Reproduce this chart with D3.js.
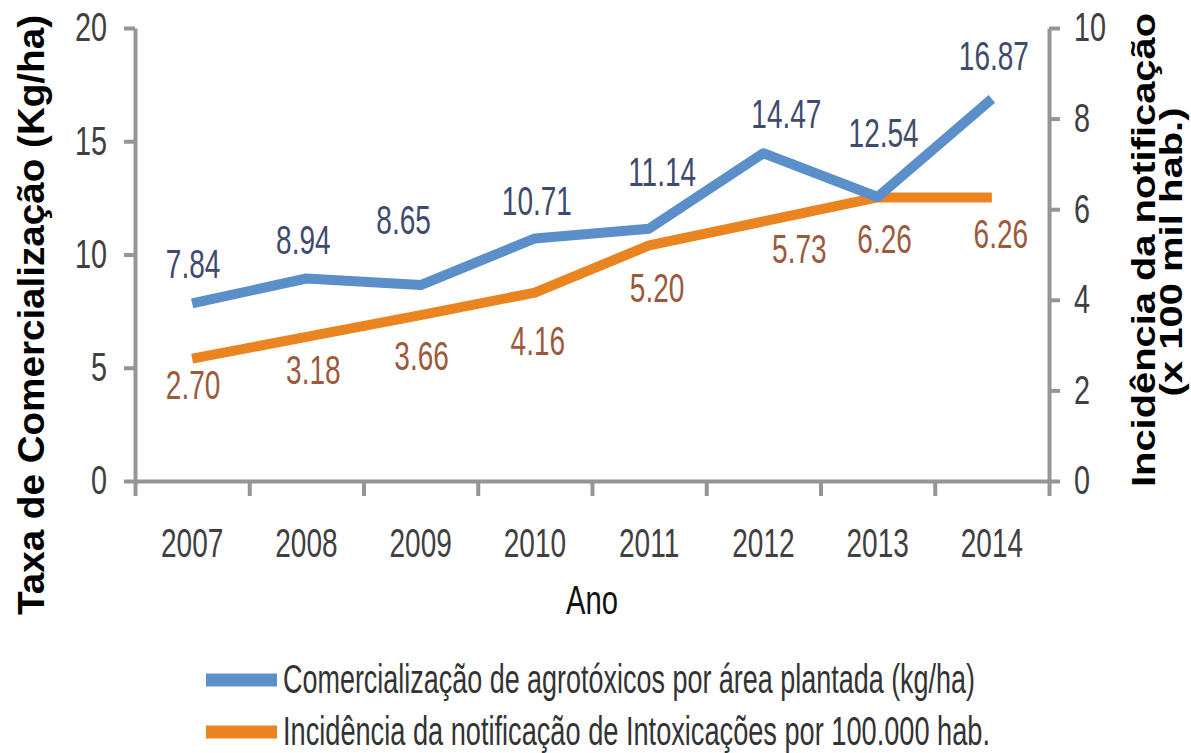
<!DOCTYPE html>
<html>
<head>
<meta charset="utf-8">
<script src="https://cdn.jsdelivr.net/npm/d3@7"></script>
<style>
  body { margin: 0; background: #fff; }
  text { font-family: "Liberation Sans", Arial, sans-serif; }
  .axis path, .axis line { stroke: #959595; stroke-width: 4; }
  .axis text { fill: #404040; font-size: 40px; }
</style>
</head>
<body>
<svg id="chart" width="1191" height="753"></svg>
<script>
// Chart data
var years = ["2007", "2008", "2009", "2010", "2011", "2012", "2013", "2014"];
var comercializacao = [7.84, 8.94, 8.65, 10.71, 11.14, 14.47, 12.54, 16.87];
var incidencia = [2.70, 3.18, 3.66, 4.16, 5.20, 5.73, 6.26, 6.26];
var leftTicks = [0, 5, 10, 15, 20];
var rightTicks = [0, 2, 4, 6, 8, 10];

// Label nudges (px), as placed in the original
var blueDx = [1, -3, -17, 2, 13, 23, 6, 2];
var blueDy = [-25, -25, -51, -23, -43, -25, -50, -29];
var orangeDx = [1, 7, 1, 3, 8, 36, 7, 9];
var orangeDy = [40, 47, 55, 62, 57, 42, 56, 51];

// Plot area
var plotLeft = 135, plotRight = 1049, plotTop = 28, plotBottom = 481;
var blue = "#5b8fc9", orange = "#ea8420";

var svg = d3.select("#chart");

// squeeze text horizontally, like the condensed font of the original
function squeeze(sel, k) {
  sel.each(function() {
    var w = this.getComputedTextLength();
    d3.select(this).attr("textLength", w * k).attr("lengthAdjust", "spacingAndGlyphs");
  });
}
function fitWidth(sel, w) {
  sel.attr("textLength", w).attr("lengthAdjust", "spacingAndGlyphs");
}

// Scales
var x = d3.scaleBand().domain(years).range([plotLeft, plotRight]);
var xEdge = d3.scaleLinear().domain([0, years.length]).range([plotLeft, plotRight]);
var yL = d3.scaleLinear().domain([0, 20]).range([plotBottom, plotTop]);
var yR = d3.scaleLinear().domain([0, 10]).range([plotBottom, plotTop]);

// X axis: boundary ticks
svg.append("g")
    .attr("class", "axis")
    .attr("transform", "translate(0," + plotBottom + ")")
    .call(d3.axisBottom(xEdge).tickValues(d3.range(years.length + 1)).tickFormat("").tickSize(15).tickSizeOuter(0));

// X axis labels
var xLab = svg.append("g")
    .attr("class", "axis")
    .attr("transform", "translate(0," + plotBottom + ")")
    .call(d3.axisBottom(x).tickSize(0).tickPadding(48));
xLab.select(".domain").remove();
xLab.selectAll("text").call(squeeze, 0.7);

// Left axis
var axL = svg.append("g")
    .attr("class", "axis")
    .attr("transform", "translate(" + plotLeft + ",0)")
    .call(d3.axisLeft(yL).tickValues(leftTicks).tickSize(11).tickSizeOuter(0).tickPadding(17));
axL.selectAll("text").call(squeeze, 0.72);

// Right axis
var axR = svg.append("g")
    .attr("class", "axis")
    .attr("transform", "translate(" + plotRight + ",0)")
    .call(d3.axisRight(yR).tickValues(rightTicks).tickSize(11).tickSizeOuter(0).tickPadding(14));
axR.selectAll("text").call(squeeze, 0.72);

// Lines
var cx = function(d, i) { return x(years[i]) + x.bandwidth() / 2; };
var lineL = d3.line().x(cx).y(function(d) { return yL(d); });
var lineR = d3.line().x(cx).y(function(d) { return yR(d); });

svg.append("path")
    .attr("d", lineR(incidencia))
    .attr("fill", "none").attr("stroke", orange).attr("stroke-width", 10).attr("stroke-linejoin", "round");
svg.append("path")
    .attr("d", lineL(comercializacao))
    .attr("fill", "none").attr("stroke", blue).attr("stroke-width", 10).attr("stroke-linejoin", "round");

// Data labels
svg.append("g").selectAll("text")
  .data(comercializacao)
  .enter().append("text")
    .attr("x", function(d, i) { return cx(d, i) + blueDx[i]; })
    .attr("y", function(d, i) { return yL(d) + blueDy[i]; })
    .attr("text-anchor", "middle")
    .attr("font-size", 40)
    .attr("fill", "#3f4b6e")
    .text(function(d) { return d.toFixed(2); })
    .call(squeeze, 0.7);

svg.append("g").selectAll("text")
  .data(incidencia)
  .enter().append("text")
    .attr("x", function(d, i) { return cx(d, i) + orangeDx[i]; })
    .attr("y", function(d, i) { return yR(d) + orangeDy[i]; })
    .attr("text-anchor", "middle")
    .attr("font-size", 40)
    .attr("fill", "#9b5a3c")
    .text(function(d) { return d.toFixed(2); })
    .call(squeeze, 0.7);

// Axis titles
svg.append("text")
    .attr("x", 592).attr("y", 614)
    .attr("text-anchor", "middle")
    .attr("font-size", 40)
    .attr("fill", "#111")
    .text("Ano")
    .call(fitWidth, 52);

svg.append("text")
    .attr("transform", "translate(44,315) rotate(-90)")
    .attr("text-anchor", "middle")
    .attr("font-size", 36)
    .attr("font-weight", "bold")
    .attr("fill", "#000")
    .text("Taxa de Comercialização (Kg/ha)")
    .call(fitWidth, 600);

svg.append("text")
    .attr("transform", "translate(1155,250) rotate(-90)")
    .attr("text-anchor", "middle")
    .attr("font-size", 33)
    .attr("font-weight", "bold")
    .attr("fill", "#000")
    .text("Incidência da notificação")
    .call(fitWidth, 474);

svg.append("text")
    .attr("transform", "translate(1182,252) rotate(-90)")
    .attr("text-anchor", "middle")
    .attr("font-size", 32)
    .attr("font-weight", "bold")
    .attr("fill", "#000")
    .text("(x 100 mil hab.)")
    .call(fitWidth, 289);

// Legend
var legendItems = [
  {label: "Comercialização de agrotóxicos por área plantada (kg/ha)", color: blue, w: 692},
  {label: "Incidência da notificação de Intoxicações por 100.000 hab.", color: orange, w: 707}
];
var legend = svg.append("g").selectAll("g")
  .data(legendItems)
  .enter().append("g")
    .attr("transform", function(d, i) { return "translate(206," + (680 + i * 52) + ")"; });
legend.append("line")
    .attr("x1", 0).attr("x2", 71)
    .attr("stroke", function(d) { return d.color; })
    .attr("stroke-width", 13);
legend.append("text")
    .attr("x", 77).attr("y", 13)
    .attr("font-size", 40)
    .attr("fill", "#333")
    .text(function(d) { return d.label; })
    .each(function(d) { d3.select(this).call(fitWidth, d.w); });
</script>
</body>
</html>
